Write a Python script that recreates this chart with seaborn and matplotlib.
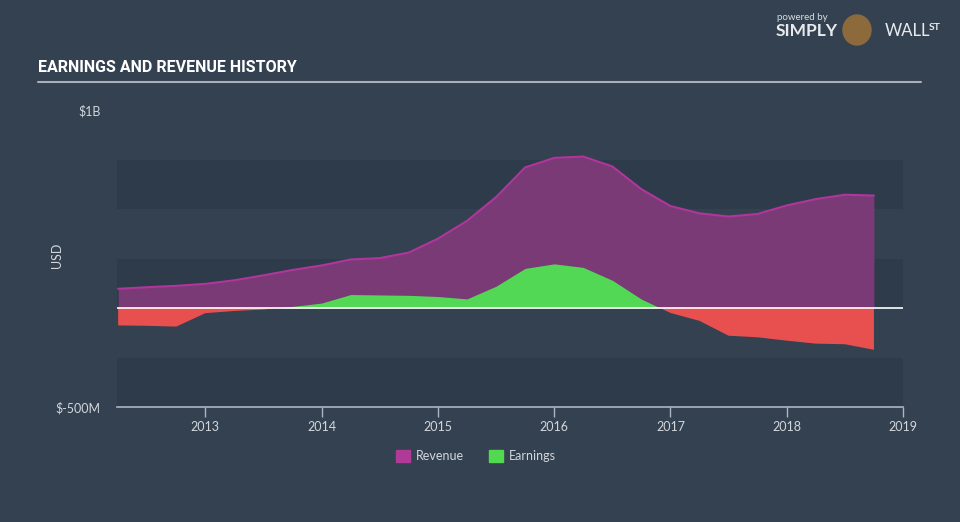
import matplotlib
matplotlib.use("Agg")
import matplotlib.pyplot as plt
from matplotlib.patches import Patch, Ellipse
import seaborn as sns
import pandas as pd

# values in $M
years = [2012.25, 2012.5, 2012.75, 2013.0, 2013.25, 2013.5, 2013.75,
         2014.0, 2014.25, 2014.5, 2014.75, 2015.0, 2015.25, 2015.5,
         2015.75, 2016.0, 2016.25, 2016.5, 2016.75, 2017.0, 2017.25,
         2017.5, 2017.75, 2018.0, 2018.25, 2018.5, 2018.75]
revenue = [97, 105, 112, 122, 140, 165, 192,
           215, 245, 252, 280, 350, 440, 560,
           710, 758, 765, 715, 600, 515, 478,
           462, 475, 518, 550, 572, 568]
earnings = [-88, -90, -94, -26, -15, -8, 8,
            25, 68, 66, 64, 58, 46, 110,
            200, 223, 205, 140, 45, -25, -65,
            -140, -148, -165, -180, -183, -211]
x_ticks = [2013, 2014, 2015, 2016, 2017, 2018, 2019]

df = pd.DataFrame({"year": years, "revenue": revenue, "earnings": earnings})

bg = "#334150"
band = "#2e3b4a"
txt = "#d3d7dc"
axis_col = "#aeb6bf"

sns.set_theme(style="dark")
plt.rcParams["font.family"] = ["Lato", "DejaVu Sans"]

fig = plt.figure(figsize=(9.6, 5.22), dpi=100, facecolor=bg)
ax = fig.add_axes([117 / 960, 1 - 407 / 522, 786 / 960, 297 / 522])
ax.set_facecolor(bg)

# horizontal bands
for lo, hi in [(500, 750), (0, 250), (-500, -250)]:
    ax.axhspan(lo, hi, color=band, zorder=0, lw=0)

# revenue area + line
ax.fill_between(df["year"], 0, df["revenue"], color="#7a3a76", lw=0, zorder=2)
sns.lineplot(data=df, x="year", y="revenue", ax=ax, color="#b0369c", lw=1.5, zorder=3)

# earnings area, green above zero, red below
ax.fill_between(df["year"], 0, df["earnings"], where=df["earnings"] >= 0,
                interpolate=True, color="#52d855", lw=0, zorder=4)
ax.fill_between(df["year"], 0, df["earnings"], where=df["earnings"] <= 0,
                interpolate=True, color="#e84f4f", lw=0, zorder=4)

ax.axhline(0, color="white", lw=1.2, zorder=5)

ax.set_xlim(2012.24, 2019.0)
ax.set_ylim(-500, 1000)
ax.set_xticks(x_ticks)
ax.set_xticklabels([str(y) for y in x_ticks], color=txt, fontsize=9)
ax.set_yticks([-500, 1000])
ax.set_yticklabels(["$-500M", "$1B"], color=txt, fontsize=9)
ax.tick_params(axis="x", length=7, width=1, color=axis_col, direction="out", pad=3,
               bottom=True)
ax.tick_params(axis="y", length=0, pad=12)
ax.set_xlabel("")
ax.set_ylabel("")
for s in ["top", "right", "left"]:
    ax.spines[s].set_visible(False)
ax.spines["bottom"].set_color(axis_col)
ax.spines["bottom"].set_linewidth(1.2)
ax.grid(False)

fig.text(57 / 960, 1 - 255 / 522, "USD", rotation=90, color=txt, fontsize=9,
         ha="center", va="center")

# title and underline
fig.text(38 / 960, 1 - 68 / 522, "EARNINGS AND REVENUE HISTORY", color="white",
         fontsize=11.5, fontweight="bold", fontstretch="condensed",
         family=["Roboto", "DejaVu Sans"], ha="left", va="center")
fig.add_artist(plt.Line2D([38 / 960, 921 / 960], [1 - 82 / 522, 1 - 82 / 522],
                          color="#a9afb7", lw=1.5))

# branding
fig.text(777 / 960, 1 - 18 / 522, "powered by", color="#d8dce0", fontsize=7,
         ha="left", va="center")
fig.text(776 / 960, 1 - 31 / 522, "SIMPLY", color="#e8ebee", fontsize=12.5,
         fontweight="bold", ha="left", va="center")
fig.add_artist(Ellipse((857 / 960, 1 - 30 / 522), 28 / 960, 30 / 522,
                       color="#8d6a3c", transform=fig.transFigure))
fig.text(885 / 960, 1 - 31 / 522, "WALL", color="#e8ebee", fontsize=12,
         ha="left", va="center")
fig.text(929 / 960, 1 - 27 / 522, "ST", color="#e8ebee", fontsize=7.5,
         fontweight="bold", ha="left", va="center")

# legend
handles = [Patch(color="#b03a97", label="Revenue"),
           Patch(color="#52d94f", label="Earnings")]
fig.legend(handles=handles, loc="center", bbox_to_anchor=(476 / 960, 1 - 456 / 522),
           ncol=2, frameon=False, fontsize=9, labelcolor=txt, handlelength=1.1,
           handleheight=1.1, handletextpad=0.5, columnspacing=2.0)

fig.savefig("out.png", dpi=100, facecolor=bg)
